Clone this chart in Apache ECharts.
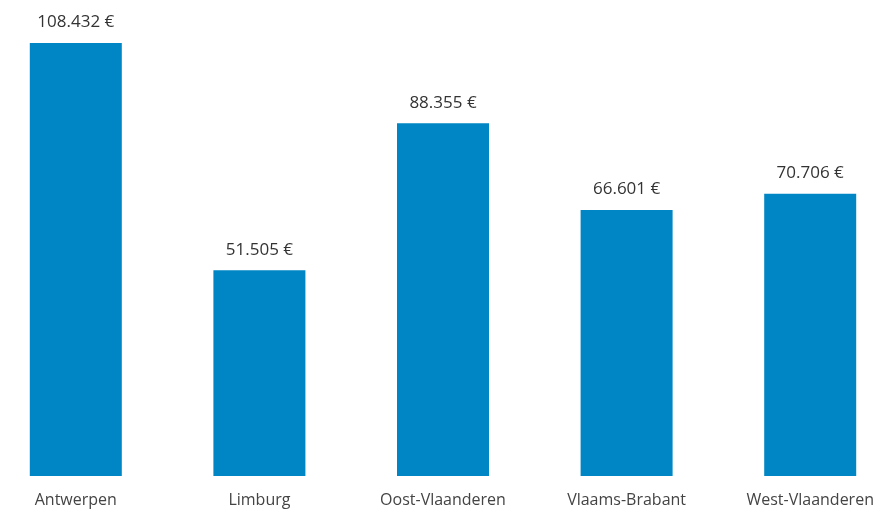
<!DOCTYPE html>
<html><head><meta charset="utf-8">
<script src="https://cdn.jsdelivr.net/npm/echarts@6/dist/echarts.min.js"></script>
<style>html,body{margin:0;padding:0;background:#fff;overflow:hidden;width:877px;height:511px;position:relative}#c{position:absolute;left:-16px;top:0;width:918px;height:511px}</style>
</head><body><div id="c"></div>
<script>
var categories = ["Antwerpen", "Limburg", "Oost-Vlaanderen", "Vlaams-Brabant", "West-Vlaanderen"];
var values = [108432, 51505, 88355, 66601, 70706];

function fmt(v){ return String(v).replace(/\B(?=(\d{3})+(?!\d))/g, ".") + " €"; }

var chart = echarts.init(document.getElementById('c'), null, {renderer:'canvas'});
chart.setOption({
  animation: false,
  grid: {left: 0, right: 0, top: 43, bottom: 35, containLabel: false},
  xAxis: {
    type: 'category', data: categories,
    axisLine: {show: false}, axisTick: {show: false},
    axisLabel: {color: '#444', fontSize: 16, fontFamily: 'Open Sans', margin: 16}
  },
  yAxis: {
    type: 'value', min: 0, max: 108432, show: false, splitLine: {show: false}
  },
  series: [{
    type: 'bar', data: values, barWidth: 92,
    itemStyle: {color: '#0086C5'},
    label: {show: true, position: 'top', distance: 12, color: '#333', fontSize: 17, fontFamily: 'Open Sans',
      formatter: function(p){ return fmt(p.value); }}
  }]
});
</script></body></html>
